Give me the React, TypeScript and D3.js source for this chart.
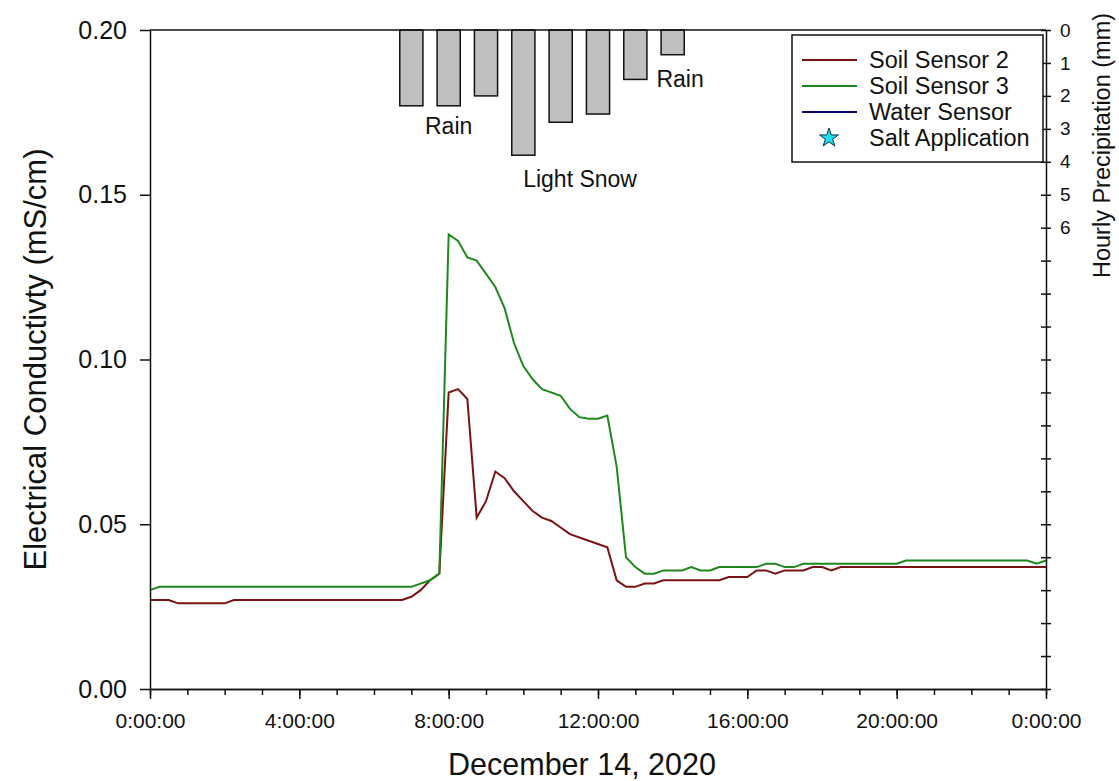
import { useEffect, useRef } from 'react';
import * as d3 from 'd3';

// Soil Sensor 2 (hours since midnight, EC in mS/cm)
const soil2Hours = [
  0, 0.5, 0.75, 2.0, 2.25, 6.75, 7.0, 7.25, 7.5, 7.75, 8.0, 8.25, 8.5, 8.75, 9.0,
  9.25, 9.5, 9.75, 10.0, 10.25, 10.5, 10.75, 11.0, 11.25, 11.75, 12.25, 12.5, 12.75,
  13.0, 13.25, 13.5, 13.75, 15.25, 15.5, 16.0, 16.25, 16.5, 16.75, 17.0, 17.5, 17.75,
  18.0, 18.25, 18.5, 24,
];
const soil2Values = [
  0.027, 0.027, 0.026, 0.026, 0.027, 0.027, 0.028, 0.030, 0.033, 0.035, 0.090, 0.091,
  0.088, 0.052, 0.057, 0.066, 0.064, 0.060, 0.057, 0.054, 0.052, 0.051, 0.049, 0.047,
  0.045, 0.043, 0.033, 0.031, 0.031, 0.032, 0.032, 0.033, 0.033, 0.034, 0.034, 0.036,
  0.036, 0.035, 0.036, 0.036, 0.037, 0.037, 0.036, 0.037, 0.037,
];

// Soil Sensor 3
const soil3Hours = [
  0, 0.25, 7.0, 7.5, 7.75, 8.0, 8.25, 8.5, 8.75, 9.25, 9.5, 9.75, 10.0, 10.25, 10.5,
  11.0, 11.25, 11.5, 11.75, 12.0, 12.25, 12.5, 12.75, 13.0, 13.25, 13.5, 13.75, 14.25,
  14.5, 14.75, 15.0, 15.25, 16.25, 16.5, 16.75, 17.0, 17.25, 17.5, 20.0, 20.25, 23.5,
  23.75, 24,
];
const soil3Values = [
  0.030, 0.031, 0.031, 0.033, 0.035, 0.138, 0.136, 0.131, 0.130, 0.122, 0.1155, 0.105,
  0.098, 0.094, 0.091, 0.089, 0.085, 0.0825, 0.082, 0.082, 0.083, 0.0675, 0.040, 0.037,
  0.035, 0.035, 0.036, 0.036, 0.037, 0.036, 0.036, 0.037, 0.037, 0.038, 0.038, 0.037,
  0.037, 0.038, 0.038, 0.039, 0.039, 0.038, 0.039,
];

// hourly precipitation (mm), bars centred on the hour
const precipHours = [7, 8, 9, 10, 11, 12, 13, 14];
const precipValues = [2.3, 2.3, 2.0, 3.8, 2.8, 2.55, 1.5, 0.75];

const notes = [
  { text: 'Rain', hour: 8, mm: 3.15 },
  { text: 'Light Snow', hour: 11.52, mm: 4.75 },
  { text: 'Rain', hour: 14.2, mm: 1.72 },
];

const ecTicks = [0, 0.05, 0.1, 0.15, 0.2];
const precipLabelMax = 6;

const legendItems = [
  { label: 'Soil Sensor 2', color: '#7b1212', kind: 'line' },
  { label: 'Soil Sensor 3', color: '#1e881e', kind: 'line' },
  { label: 'Water Sensor', color: '#0a0a7a', kind: 'line' },
  { label: 'Salt Application', color: '#1fe0ea', kind: 'star' },
];

const WIDTH = 1119;
const HEIGHT = 781;
const FONT = '"Liberation Sans", Arial, sans-serif';

const App = () => {
  const svgRef = useRef<SVGSVGElement>(null);

  useEffect(() => {
    if (!svgRef.current) return;
    const svg = d3.select(svgRef.current);
    svg.selectAll('*').remove();

    const left = 150;
    const right = 1046;
    const top = 30;
    const bottom = 689;

    const x = d3.scaleLinear().domain([0, 24]).range([left, right]);
    const y = d3.scaleLinear().domain([0, 0.2]).range([bottom, top]);
    const yp = d3.scaleLinear().domain([0, 20]).range([top, bottom]);

    const g = svg.append('g').attr('font-family', FONT);

    // precipitation bars hanging from top
    const barW = x(0.62) - x(0);
    g.selectAll('rect.bar')
      .data(precipHours.map((h, i) => ({ h, v: precipValues[i] })))
      .join('rect')
      .attr('class', 'bar')
      .attr('x', (d) => x(d.h) - barW / 2)
      .attr('y', yp(0))
      .attr('width', barW)
      .attr('height', (d) => yp(d.v) - yp(0))
      .attr('fill', '#c0c0c0')
      .attr('stroke', '#111')
      .attr('stroke-width', 1.5);

    g.selectAll('text.note')
      .data(notes)
      .join('text')
      .attr('class', 'note')
      .attr('x', (d) => x(d.hour))
      .attr('y', (d) => yp(d.mm))
      .attr('text-anchor', 'middle')
      .attr('font-size', 23)
      .attr('fill', '#111')
      .text((d) => d.text);

    // lines
    const line = d3
      .line<[number, number]>()
      .x((d) => x(d[0]))
      .y((d) => y(d[1]));

    g.append('path')
      .datum(soil2Hours.map((h, i) => [h, soil2Values[i]] as [number, number]))
      .attr('d', line)
      .attr('fill', 'none')
      .attr('stroke', legendItems[0].color)
      .attr('stroke-width', 2);

    g.append('path')
      .datum(soil3Hours.map((h, i) => [h, soil3Values[i]] as [number, number]))
      .attr('d', line)
      .attr('fill', 'none')
      .attr('stroke', legendItems[1].color)
      .attr('stroke-width', 2);

    // frame
    g.append('line')
      .attr('x1', left)
      .attr('x2', right)
      .attr('y1', top)
      .attr('y2', top)
      .attr('stroke', '#111')
      .attr('stroke-width', 1.5);

    // left axis
    const yAxis = g
      .append('g')
      .attr('transform', `translate(${left},0)`)
      .call(
        d3
          .axisLeft(y)
          .tickValues(ecTicks)
          .tickFormat(d3.format('.2f'))
          .tickSize(10)
          .tickSizeOuter(0)
          .tickPadding(13)
      );
    yAxis.selectAll('text').attr('font-size', 25).attr('font-family', FONT).attr('fill', '#111');

    // bottom axis: minor hourly ticks + major 4-hour ticks
    g.append('g')
      .attr('transform', `translate(0,${bottom})`)
      .call(
        d3
          .axisBottom(x)
          .tickValues(d3.range(0, 25, 1))
          .tickFormat(() => '')
          .tickSize(6)
          .tickSizeOuter(0)
      );
    const xAxis = g
      .append('g')
      .attr('transform', `translate(0,${bottom})`)
      .call(
        d3
          .axisBottom(x)
          .tickValues(d3.range(0, 25, 4))
          .tickFormat((d) => `${(d as number) % 24}:00:00`)
          .tickSize(10)
          .tickSizeOuter(0)
          .tickPadding(14)
      );
    xAxis.selectAll('text').attr('font-size', 21).attr('font-family', FONT).attr('fill', '#111');

    // right axis
    const rAxis = g
      .append('g')
      .attr('transform', `translate(${right},0)`)
      .call(
        d3
          .axisRight(yp)
          .tickValues(d3.range(0, 21, 1))
          .tickFormat((d) => ((d as number) <= precipLabelMax ? String(d) : ''))
          .tickSize(5)
          .tickSizeOuter(0)
          .tickPadding(9)
      );
    rAxis.selectAll('.tick line').attr('x1', -5);
    rAxis.selectAll('text').attr('font-size', 19).attr('font-family', FONT).attr('fill', '#111');

    svg.selectAll('.domain, .tick line').attr('stroke', '#111').attr('stroke-width', 1.5);

    // axis titles
    g.append('text')
      .attr('transform', `translate(46,${(top + bottom) / 2}) rotate(-90)`)
      .attr('text-anchor', 'middle')
      .attr('font-size', 31)
      .attr('fill', '#111')
      .text('Electrical Conductivty (mS/cm)');

    g.append('text')
      .attr('transform', `translate(1110,278) rotate(-90)`)
      .attr('text-anchor', 'start')
      .attr('font-size', 23.5)
      .attr('fill', '#111')
      .text('Hourly Precipitation (mm)');

    g.append('text')
      .attr('x', 582)
      .attr('y', 775)
      .attr('text-anchor', 'middle')
      .attr('font-size', 30.5)
      .attr('fill', '#111')
      .text('December 14, 2020');

    // legend
    const lg = g.append('g').attr('transform', 'translate(792,35)');
    lg.append('rect')
      .attr('width', 251)
      .attr('height', 127)
      .attr('fill', '#fff')
      .attr('stroke', '#111')
      .attr('stroke-width', 1.5);
    legendItems.forEach((item, i) => {
      const cy = 25 + i * 26;
      if (item.kind === 'line') {
        lg.append('line')
          .attr('x1', 10)
          .attr('x2', 65)
          .attr('y1', cy)
          .attr('y2', cy)
          .attr('stroke', item.color)
          .attr('stroke-width', 2);
      } else {
        lg.append('path')
          .attr('transform', `translate(37,${cy})`)
          .attr('d', d3.symbol(d3.symbolStar, 110)())
          .attr('fill', item.color)
          .attr('stroke', '#0a2a50')
          .attr('stroke-width', 1);
      }
      lg.append('text')
        .attr('x', 77)
        .attr('y', cy)
        .attr('dy', '0.35em')
        .attr('font-size', 23.5)
        .attr('fill', '#111')
        .text(item.label);
    });
  }, []);

  return (
    <svg
      ref={svgRef}
      width={WIDTH}
      height={HEIGHT}
      style={{ position: 'absolute', left: 0, top: 0, background: '#fff' }}
    />
  );
};

export default App;
